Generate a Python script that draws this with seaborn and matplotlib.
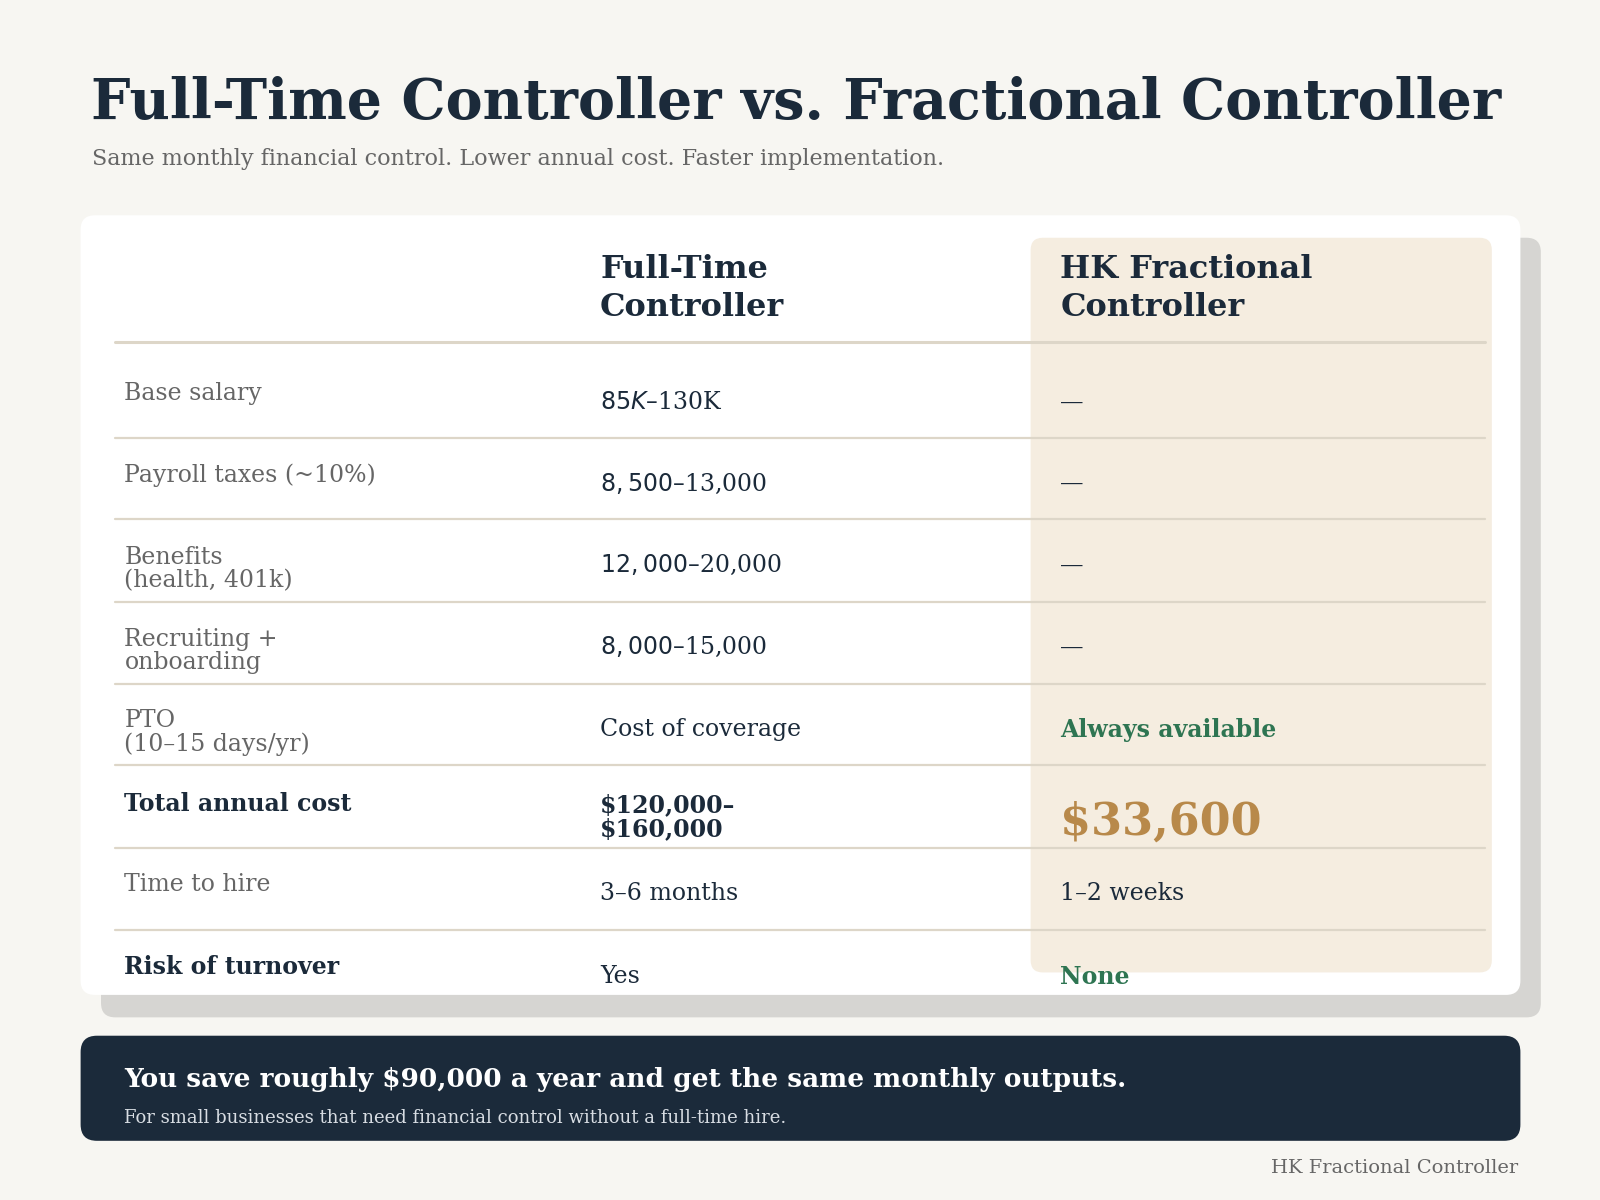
import matplotlib
matplotlib.use("Agg")
import matplotlib.pyplot as plt
import seaborn as sns
import pandas as pd
from matplotlib.patches import FancyBboxPatch

sns.set_theme(style="white")
plt.rcParams['font.family'] = ['DejaVu Serif']

title = "Full-Time Controller vs. Fractional Controller"
subtitle = "Same monthly financial control. Lower annual cost. Faster implementation."
col_headers = ["Full-Time\nController", "HK Fractional\nController"]
row_labels = ["Base salary", "Payroll taxes (~10%)", "Benefits\n(health, 401k)", "Recruiting +\nonboarding",
              "PTO\n(10–15 days/yr)", "Total annual cost", "Time to hire", "Risk of turnover"]
full_time = ["$85K–$130K", "$8,500–$13,000", "$12,000–$20,000", "$8,000–$15,000",
             "Cost of coverage", "$120,000–\n$160,000", "3–6 months", "Yes"]
fractional = ["—", "—", "—", "—", "Always available", "$33,600", "1–2 weeks", "None"]
bold_rows = [5, 7]
footer_main = "You save roughly $90,000 a year and get the same monthly outputs."
footer_sub = "For small businesses that need financial control without a full-time hire."
credit = "HK Fractional Controller"

NAVY = "#1b2a3a"; GRAY = "#666666"; GREEN = "#2e7552"; GOLD = "#b8894a"
BG = "#f7f6f2"; HL = "#f5ede0"; LINE = "#ddd6c8"

fig = plt.figure(figsize=(16, 12), dpi=100, facecolor=BG)
ax = fig.add_axes([0, 0, 1, 1])
ax.set_xlim(0, 1568); ax.set_ylim(1176, 0); ax.axis("off")
ax.set_facecolor(BG)

def rbox(x0, y0, x1, y1, color, r=14, z=1):
    ax.add_patch(FancyBboxPatch((x0 + r, y0 + r), x1 - x0 - 2 * r, y1 - y0 - 2 * r,
                                boxstyle=f"round,pad={r}", fc=color, ec="none", zorder=z))

rbox(99, 233, 1510, 997, "#d6d5d2", z=1)
rbox(79, 211, 1490, 975, "white", z=2)
rbox(1010, 233, 1462, 953, HL, r=12, z=3)

ax.text(89, 101, title, fontsize=40, fontweight="bold", color=NAVY, va="center")
ax.text(90, 156, subtitle, fontsize=16, color=GRAY, va="center")

ax.text(588, 283, col_headers[0], fontsize=23, fontweight="bold", color=NAVY, va="center", zorder=5, linespacing=1.3)
ax.text(1039, 283, col_headers[1], fontsize=23, fontweight="bold", color=NAVY, va="center", zorder=5, linespacing=1.3)

# separator lines via seaborn
line_y = [335, 429, 509, 590, 670, 750, 831, 911]
lines = pd.DataFrame({"x": [113, 1455] * len(line_y),
                      "y": [y for y in line_y for _ in range(2)],
                      "g": [i for i in range(len(line_y)) for _ in range(2)]})
sns.lineplot(data=lines, x="x", y="y", units="g", estimator=None, color=LINE,
             lw=1.6, ax=ax, zorder=4, legend=False)
ax.lines[0].set_linewidth(2.2)
ax.set_xlim(0, 1568); ax.set_ylim(1176, 0); ax.axis("off")

label_top = [376, 456, 537, 617, 697, 778, 858, 938]
val_c = [394, 474, 554, 634, 715, 801, 876, 957]
for i in range(len(row_labels)):
    b = i in bold_rows
    ax.text(122, label_top[i] - 2, row_labels[i], fontsize=17, va="top", zorder=5,
            color=NAVY if b else GRAY, fontweight="bold" if b else "normal", linespacing=1.0)
    ax.text(588, val_c[i], full_time[i], fontsize=17, va="center", zorder=5, color=NAVY,
            fontweight="bold" if i == 5 else "normal", linespacing=1.0)
    c, w, fs = NAVY, "normal", 17
    if fractional[i] in ("Always available", "None"):
        c, w = GREEN, "bold"
    if i == 5:
        c, w, fs = GOLD, "bold", 32
    ax.text(1039, val_c[i] + (5 if i == 5 else 0), fractional[i], fontsize=fs, va="center",
            zorder=5, color=c, fontweight=w)

rbox(79, 1015, 1490, 1118, NAVY, r=16, z=2)
ax.text(122, 1058, footer_main, fontsize=19, fontweight="bold", color="white", va="center", zorder=5)
ax.text(122, 1096, footer_sub, fontsize=13, color="#d8dde3", va="center", zorder=5)
ax.text(1488, 1145, credit, fontsize=14, color=GRAY, va="center", ha="right")

fig.savefig("out.png", dpi=100, facecolor=BG)
